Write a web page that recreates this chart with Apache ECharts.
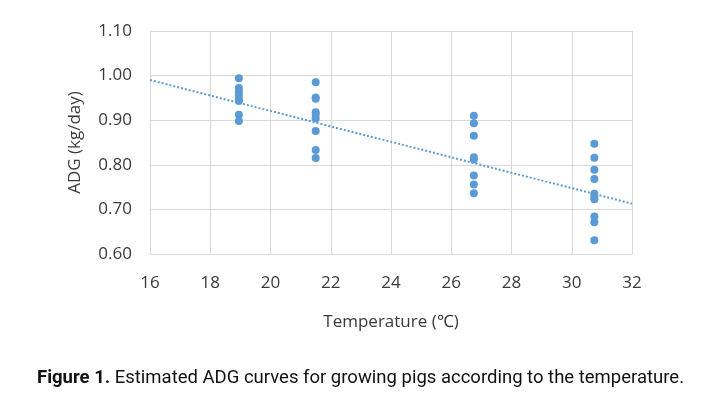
<!DOCTYPE html>
<html><head><meta charset="utf-8">
<script src="https://cdn.jsdelivr.net/npm/echarts@6/dist/echarts.min.js"></script>
<style>html,body{margin:0;padding:0;background:#fff}#c{width:721px;height:394px}</style>
</head><body><div id="c"></div>
<script>
// Data
const temps = [18.95, 21.5, 26.75, 30.75];
const adg1895 = [0.994, 0.972, 0.964, 0.956, 0.947, 0.943, 0.912, 0.898];
const adg215 = [0.985, 0.951, 0.948, 0.918, 0.912, 0.904, 0.876, 0.833, 0.815];
const adg2675 = [0.910, 0.893, 0.865, 0.817, 0.812, 0.776, 0.756, 0.736];
const adg3075 = [0.847, 0.816, 0.789, 0.768, 0.735, 0.728, 0.723, 0.684, 0.671, 0.631];
const trendX = [16, 32];
const trendY = [0.990, 0.713];
const xTicks = [16, 18, 20, 22, 24, 26, 28, 30, 32];
const yTicks = [0.6, 0.7, 0.8, 0.9, 1.0, 1.1];

const groups = [adg1895, adg215, adg2675, adg3075];
const points = [];
groups.forEach((g, i) => g.forEach(v => points.push([temps[i], v])));
const trend = trendX.map((x, i) => [x, trendY[i]]);

const chart = echarts.init(document.getElementById('c'), null, {renderer: 'canvas'});
const labelFont = {color: '#3a3a3a', fontSize: 17, fontFamily: 'Open Sans'};
chart.setOption({
  animation: false,
  backgroundColor: '#fff',
  title: {
    text: '{b|Figure 1.} {r|Estimated ADG curves for growing pigs according to the temperature.}',
    left: 32, top: 364,
    textStyle: {
      fontWeight: 'normal', fontSize: 18.5, fontFamily: 'Roboto',
      rich: {
        b: {fontWeight: 'bold', fontSize: 18.5, color: '#111', fontFamily: 'Roboto'},
        r: {fontWeight: 'normal', fontSize: 18.5, color: '#111', fontFamily: 'Roboto'}
      }
    }
  },
  grid: {left: 150, right: 89, top: 31, bottom: 140},
  xAxis: {
    type: 'value', min: xTicks[0], max: xTicks[xTicks.length - 1], interval: 2,
    name: 'Temperature (℃)', nameLocation: 'middle', nameGap: 60,
    nameTextStyle: {color: '#3a3a3a', fontSize: 17, fontFamily: 'Open Sans'},
    axisLine: {show: true, lineStyle: {color: '#d9d9d9'}},
    axisTick: {show: false},
    axisLabel: Object.assign({margin: 21, formatter: v => String(v)}, labelFont),
    splitLine: {show: true, lineStyle: {color: '#d9d9d9', width: 1}}
  },
  yAxis: {
    type: 'value', min: yTicks[0], max: yTicks[yTicks.length - 1], interval: 0.1,
    name: 'ADG (kg/day)', nameLocation: 'middle', nameGap: 66,
    nameTextStyle: {color: '#3a3a3a', fontSize: 17, fontFamily: 'Open Sans'},
    axisLine: {show: true, lineStyle: {color: '#d9d9d9'}},
    axisTick: {show: false},
    axisLabel: Object.assign({margin: 18, formatter: v => v.toFixed(2)}, labelFont),
    splitLine: {show: true, lineStyle: {color: '#d9d9d9', width: 1}}
  },
  series: [
    {
      type: 'line', data: trend, showSymbol: false, symbol: 'none',
      lineStyle: {color: '#5b9bd5', width: 2, type: [2, 2]}, z: 1
    },
    {
      type: 'scatter', data: points, symbol: 'circle', symbolSize: 8,
      itemStyle: {color: '#5b9bd5', opacity: 1}, z: 2
    }
  ]
});
</script>
</body></html>
